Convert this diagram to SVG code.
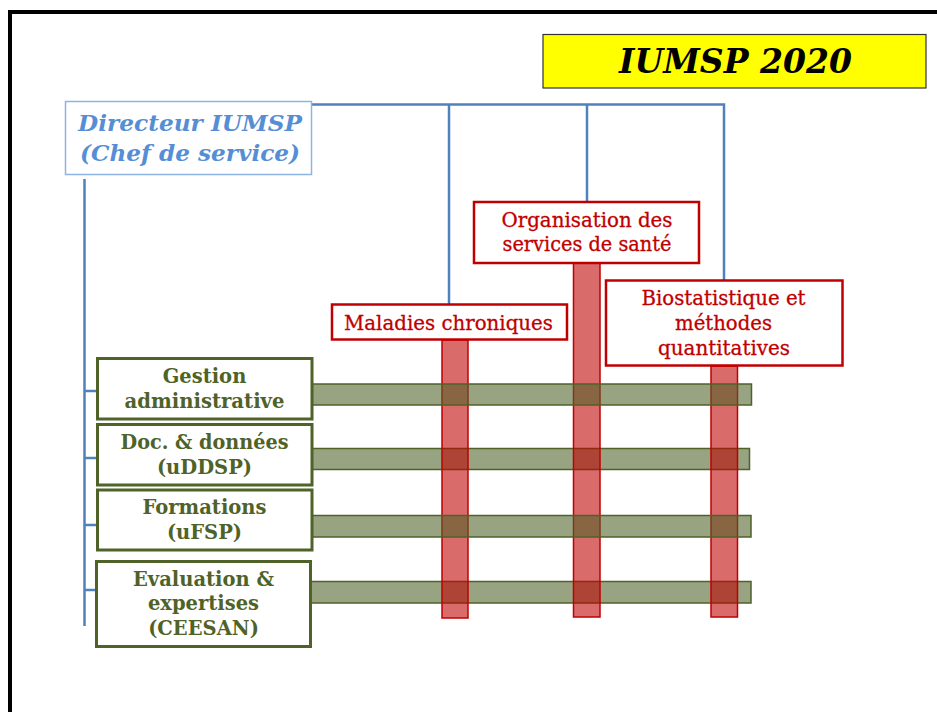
<svg xmlns="http://www.w3.org/2000/svg" width="937" height="712" viewBox="0 0 937 712">
<style>
.frame{fill:none;stroke:#000;stroke-width:4}
.conn{fill:none;stroke:#4F81BD;stroke-width:2.5}
.dir{fill:#fff;stroke:#8EB4E3;stroke-width:1.5}
.dirt{font-family:"DejaVu Serif",serif;font-weight:bold;font-style:italic;font-size:23px;fill:#558ED5;text-anchor:middle}
.title{fill:#FFFF00;stroke:#333;stroke-width:1.2}
.titlet{font-family:"DejaVu Serif",serif;font-weight:bold;font-style:italic;font-size:34px;fill:#000;text-anchor:middle}
.rbox{fill:#fff;stroke:#C00000;stroke-width:2.5}
.rt{font-family:"DejaVu Serif",serif;font-size:20.5px;fill:#C00000;text-anchor:middle;stroke:#C00000;stroke-width:0.3}
.gbox{fill:#fff;stroke:#4F6228;stroke-width:3}
.gt{font-family:"DejaVu Serif",serif;font-weight:bold;font-size:19.5px;fill:#4F6228;text-anchor:middle}
.rbar{fill:#C00000;fill-opacity:0.58;stroke:#C00000;stroke-width:1.5}
.gbar{fill:#4F6228;fill-opacity:0.59;stroke:#4F6228;stroke-width:1.5}
</style>
<rect class="frame" x="10" y="12" width="940" height="720"/>

<g id="title">
<rect class="title" x="543" y="34.5" width="383" height="53.5"/>
<text class="titlet" x="735.5" y="73" textLength="233" lengthAdjust="spacingAndGlyphs">IUMSP 2020</text>
</g>

<g id="connectors">
<polyline class="conn" points="312,104.5 724,104.5 724,280"/>
<line class="conn" x1="449" y1="104.5" x2="449" y2="304"/>
<line class="conn" x1="587" y1="104.5" x2="587" y2="202"/>
<line class="conn" x1="84.5" y1="179" x2="84.5" y2="626"/>
<line class="conn" x1="84.5" y1="391" x2="97" y2="391"/>
<line class="conn" x1="84.5" y1="458" x2="97" y2="458"/>
<line class="conn" x1="84.5" y1="525" x2="97" y2="525"/>
<line class="conn" x1="84.5" y1="590" x2="96" y2="590"/>
</g>

<g id="bars">
<rect class="gbar" x="312" y="448.5" width="437.5" height="21"/>
<rect class="gbar" x="311" y="581.5" width="440" height="21.5"/>
<rect class="rbar" x="442" y="340" width="26" height="278"/>
<rect class="rbar" x="573.5" y="263" width="26.5" height="354"/>
<rect class="rbar" x="711" y="366" width="26.5" height="251"/>
<rect class="gbar" x="312" y="384" width="439.5" height="21"/>
<rect class="gbar" x="312" y="515.5" width="439" height="21.5"/>
</g>

<g id="directeur">
<rect class="dir" x="65.5" y="101.5" width="246" height="73"/>
<text class="dirt" x="190" y="131" textLength="224" lengthAdjust="spacingAndGlyphs">Directeur IUMSP</text>
<text class="dirt" x="190" y="161" textLength="220" lengthAdjust="spacingAndGlyphs">(Chef de service)</text>
</g>

<g id="maladies">
<rect class="rbox" x="332" y="304.5" width="235" height="35"/>
<text class="rt" x="448.5" y="330" textLength="209" lengthAdjust="spacingAndGlyphs">Maladies chroniques</text>
</g>

<g id="organisation">
<rect class="rbox" x="474" y="202" width="225" height="61"/>
<text class="rt" x="587" y="227" textLength="171" lengthAdjust="spacingAndGlyphs">Organisation des</text>
<text class="rt" x="587" y="250.5" textLength="169" lengthAdjust="spacingAndGlyphs">services de santé</text>
</g>

<g id="biostat">
<rect class="rbox" x="606" y="280.5" width="236.5" height="85"/>
<text class="rt" x="723.5" y="305" textLength="164" lengthAdjust="spacingAndGlyphs">Biostatistique et</text>
<text class="rt" x="723.5" y="330" textLength="97" lengthAdjust="spacingAndGlyphs">méthodes</text>
<text class="rt" x="724" y="355" textLength="132" lengthAdjust="spacingAndGlyphs">quantitatives</text>
</g>

<g id="gestion">
<rect class="gbox" x="97.5" y="358.5" width="214.5" height="60.5"/>
<text class="gt" x="204.5" y="383">Gestion</text>
<text class="gt" x="204.5" y="408" textLength="160" lengthAdjust="spacingAndGlyphs">administrative</text>
</g>

<g id="doc">
<rect class="gbox" x="97.5" y="424.5" width="214.5" height="60.5"/>
<text class="gt" x="204.5" y="449" textLength="168" lengthAdjust="spacingAndGlyphs">Doc. &amp; données</text>
<text class="gt" x="204.5" y="474">(uDDSP)</text>
</g>

<g id="formations">
<rect class="gbox" x="97.5" y="490" width="214.5" height="60"/>
<text class="gt" x="204.5" y="514">Formations</text>
<text class="gt" x="204.5" y="539">(uFSP)</text>
</g>

<g id="evaluation">
<rect class="gbox" x="96.5" y="561.5" width="214" height="85"/>
<text class="gt" x="203.5" y="586">Evaluation &amp;</text>
<text class="gt" x="203.5" y="610">expertises</text>
<text class="gt" x="203.5" y="635">(CEESAN)</text>
</g>
</svg>
